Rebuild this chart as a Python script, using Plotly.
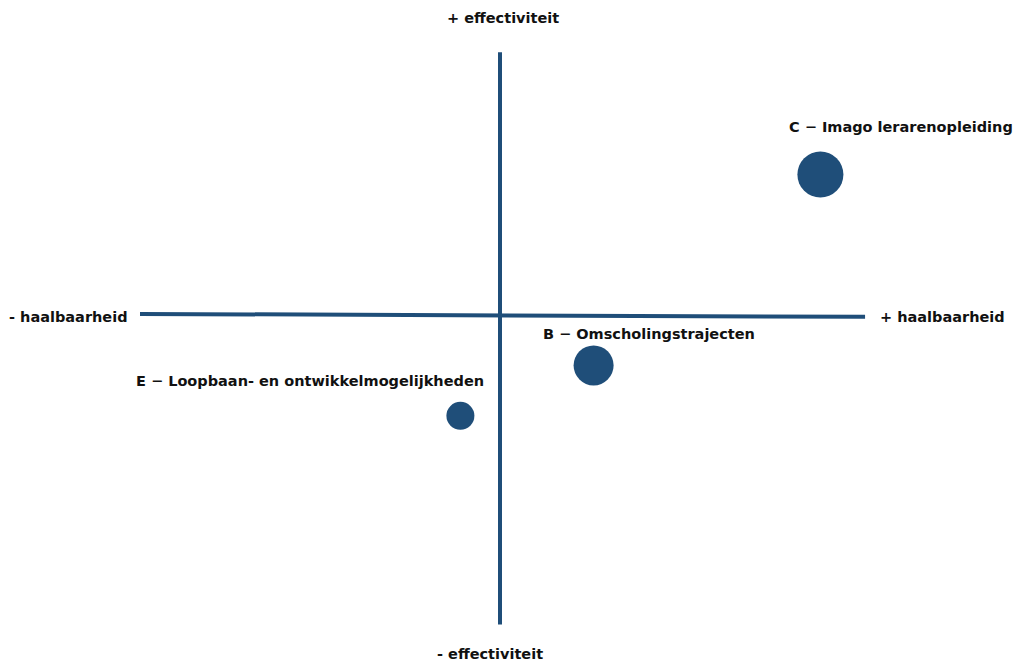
import plotly.graph_objects as go

# Data (scores, centre of the quadrant = 0,0)
items = ["C − Imago lerarenopleiding", "B − Omscholingstrajecten", "E − Loopbaan- en ontwikkelmogelijkheden"]
haalbaarheid = [8.9, 2.6, -1.1]
effectiviteit = [3.9, -1.4, -2.8]
bubble_size = [46, 40, 28]

axis_labels = ["+ effectiviteit", "- effectiviteit", "- haalbaarheid", "+ haalbaarheid"]

COL = "#1f4e79"
FONT = "DejaVu Sans"
FS = 14.5

fig = go.Figure()
fig.add_trace(go.Scatter(
    x=haalbaarheid, y=effectiviteit, mode="markers",
    marker=dict(size=bubble_size, color=COL, line=dict(width=0), opacity=1),
    hoverinfo="text", text=items, showlegend=False,
))

# quadrant axes
fig.add_shape(type="line", x0=-10.0, y0=0.03, x1=10.14, y1=-0.05, line=dict(color=COL, width=4))
fig.add_shape(type="line", x0=0, y0=7.3, x1=0, y1=-8.6, line=dict(color=COL, width=4))

# bubble labels
label_pos = [(7.97, 5.22, "left"), (1.14, -0.53, "left"), (-0.39, -1.83, "right")]
for t, (lx, ly, anc) in zip(items, label_pos):
    fig.add_annotation(x=lx, y=ly, xref="x", yref="y", text="<b>%s</b>" % t, showarrow=False,
                       xanchor=anc, yanchor="middle", font=dict(family=FONT, size=FS, color="#111"))

# axis-end labels
fig.add_annotation(x=0.08, y=8.25, text="<b>%s</b>" % axis_labels[0], showarrow=False,
                   xanchor="center", yanchor="middle", font=dict(family=FONT, size=FS, color="#111"))
fig.add_annotation(x=-0.28, y=-9.42, text="<b>%s</b>" % axis_labels[1], showarrow=False,
                   xanchor="center", yanchor="middle", font=dict(family=FONT, size=FS, color="#111"))
fig.add_annotation(x=-10.28, y=-0.05, text="<b>%s</b>" % axis_labels[2], showarrow=False,
                   xanchor="right", yanchor="middle", font=dict(family=FONT, size=FS, color="#111"))
fig.add_annotation(x=10.5, y=-0.05, text="<b>%s</b>" % axis_labels[3], showarrow=False,
                   xanchor="left", yanchor="middle", font=dict(family=FONT, size=FS, color="#111"))

fig.update_xaxes(range=[-500/36, 516/36], visible=False, fixedrange=True)
fig.update_yaxes(range=[-349/36, 315/36], visible=False, fixedrange=True)
fig.update_layout(width=1016, height=664, margin=dict(l=0, r=0, t=0, b=0),
                  plot_bgcolor="white", paper_bgcolor="white")
fig.write_html("out.html", config={"displayModeBar": False},
               post_script="document.body.style.margin='0';document.body.style.overflow='hidden';")
